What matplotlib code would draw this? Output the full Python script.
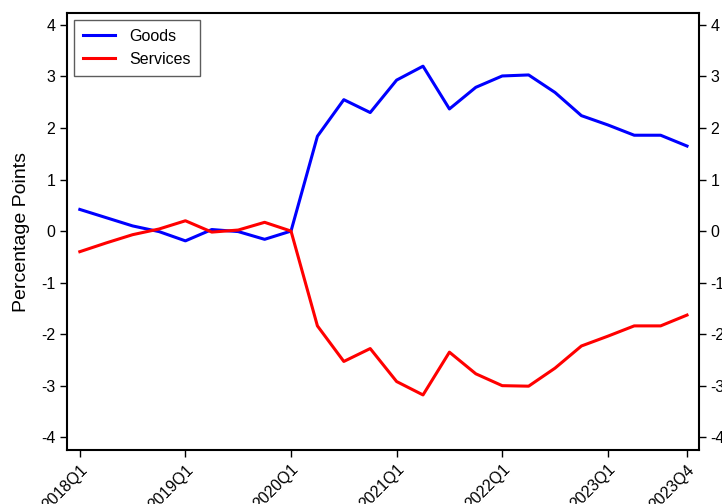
import matplotlib
matplotlib.use("Agg")
import matplotlib.pyplot as plt

plt.rcParams['font.family'] = ['Liberation Sans', 'DejaVu Sans']

quarters = [f"{y}Q{q}" for y in range(2018, 2024) for q in range(1, 5)]
goods = [0.42, 0.26, 0.10, -0.01, -0.19, 0.03, -0.01, -0.16, 0.0,
         1.84, 2.55, 2.30, 2.93, 3.20, 2.37, 2.79, 3.01, 3.03,
         2.69, 2.24, 2.06, 1.86, 1.86, 1.65]
services = [-0.40, -0.23, -0.07, 0.04, 0.20, -0.02, 0.02, 0.17, 0.0,
            -1.84, -2.53, -2.28, -2.92, -3.18, -2.35, -2.77, -3.00, -3.01,
            -2.66, -2.23, -2.04, -1.84, -1.84, -1.63]
tick_labels = ["2018Q1", "2019Q1", "2020Q1", "2021Q1", "2022Q1", "2023Q1", "2023Q4"]
yticks = [-4, -3, -2, -1, 0, 1, 2, 3, 4]

fig = plt.figure(figsize=(7.22, 5.04), dpi=100)
ax = fig.add_axes([0.093, 0.107, 0.875, 0.867])

x = list(range(len(quarters)))
ax.plot(x, goods, color='#0000ff', lw=2.2, label='Goods')
ax.plot(x, services, color='#ff0000', lw=2.2, label='Services')

ax.set_xlim(-0.48, 23.45)
ax.set_ylim(-4.25, 4.23)
ax.set_xticks([quarters.index(t) for t in tick_labels])
ax.set_xticklabels(tick_labels, rotation=45, ha='right', rotation_mode='anchor', fontsize=11.5)
ax.set_yticks(yticks)
ax.set_yticklabels([str(v) for v in yticks], fontsize=11.5)
ax.tick_params(axis='y', which='both', right=True, labelright=True, length=5, width=1)
ax.tick_params(axis='x', length=5, width=1)
for s in ax.spines.values():
    s.set_linewidth(1.5)
ax.set_ylabel('Percentage Points', fontsize=14, labelpad=8)

leg = ax.legend(loc='upper left', fontsize=11.5, frameon=True, fancybox=False,
                edgecolor='#333333', handlelength=2.0, handletextpad=0.9,
                borderpad=0.55, borderaxespad=0.45,
                bbox_to_anchor=(0.0, 1.0))
leg.get_frame().set_linewidth(1.0)

fig.savefig('out.png', dpi=100)
